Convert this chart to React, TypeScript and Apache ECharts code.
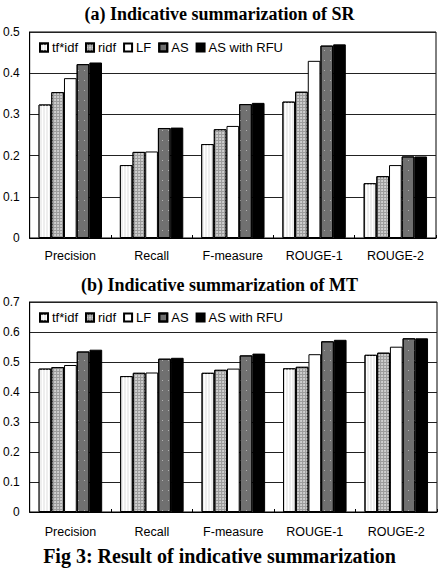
import React, { useEffect, useRef } from "react";
import * as echarts from "echarts";

const categories = ["Precision", "Recall", "F-measure", "ROUGE-1", "ROUGE-2"];
const seriesNames = ["tf*idf", "ridf", "LF", "AS", "AS with RFU"];

// (a) Indicative summarization of SR
const tfidfSR = [0.324, 0.177, 0.228, 0.331, 0.133];
const ridfSR = [0.354, 0.209, 0.264, 0.355, 0.15];
const lfSR = [0.388, 0.21, 0.272, 0.43, 0.177];
const asSR = [0.422, 0.267, 0.325, 0.467, 0.198];
const rfuSR = [0.426, 0.268, 0.328, 0.47, 0.198];

// (b) Indicative summarization of MT
const tfidfMT = [0.478, 0.453, 0.464, 0.479, 0.524];
const ridfMT = [0.483, 0.464, 0.474, 0.484, 0.531];
const lfMT = [0.49, 0.465, 0.478, 0.526, 0.551];
const asMT = [0.535, 0.511, 0.522, 0.569, 0.579];
const rfuMT = [0.541, 0.514, 0.528, 0.574, 0.579];

const titleA = "(a) Indicative summarization of SR";
const titleB = "(b) Indicative summarization of MT";
const caption = "Fig 3: Result of indicative summarization";

const sans = "Liberation Sans";
const serif = "Liberation Serif";

const styles = [
  {
    color: "#eeeeee",
    borderColor: "#000",
    borderWidth: 1,
    decal: {
      symbol: "rect",
      symbolSize: 1,
      color: "#ffffff",
      dashArrayX: [1, 2],
      dashArrayY: [4, 0],
      rotation: 0,
    },
  },
  {
    color: "#9c9c9c",
    borderColor: "#000",
    borderWidth: 1,
    decal: {
      symbol: "circle",
      symbolSize: 0.9,
      color: "#dddddd",
      dashArrayX: [2, 1],
      dashArrayY: [2, 1],
      rotation: 0,
    },
  },
  { color: "#ffffff", borderColor: "#000", borderWidth: 1 },
  {
    color: "#707070",
    borderColor: "#000",
    borderWidth: 1,
    decal: {
      symbol: "rect",
      symbolSize: 1,
      color: "#b0b0b0",
      dashArrayX: [1, 5],
      dashArrayY: [1, 9],
      rotation: 0,
    },
  },
  { color: "#000000", borderColor: "#000", borderWidth: 1 },
];

const srData = [tfidfSR, ridfSR, lfSR, asSR, rfuSR];
const mtData = [tfidfMT, ridfMT, lfMT, asMT, rfuMT];

export default function App() {
  const ref = useRef<HTMLDivElement>(null);
  useEffect(() => {
    if (!ref.current) return;
    const chart = echarts.init(ref.current, undefined, { renderer: "svg" });
    const makeSeries = (data: number[][], gi: number) =>
      data.map((vals, i) => ({
        name: seriesNames[i],
        type: "bar",
        xAxisIndex: gi,
        yAxisIndex: gi,
        data: vals,
        barGap: "0%",
        barCategoryGap: "22%",
        itemStyle: styles[i],
        emphasis: { disabled: true },
      }));
    const xAxisCommon = {
      type: "category",
      data: categories,
      axisLine: { show: true, lineStyle: { color: "#000", width: 1 } },
      axisTick: { show: true, inside: true, length: 3, lineStyle: { color: "#000" } },
      axisLabel: { color: "#000", fontFamily: sans, fontSize: 12.5, interval: 0, hideOverlap: false },
      splitLine: { show: false },
    };
    const yAxisCommon = {
      type: "value",
      min: 0,
      interval: 0.1,
      axisLine: { show: true, lineStyle: { color: "#000", width: 1 } },
      axisTick: { show: false },
      axisLabel: { color: "#000", fontFamily: sans, fontSize: 12, margin: 10 },
      splitLine: { show: true, lineStyle: { color: "#222", width: 1 } },
    };
    const titleStyle = (size: number) => ({
      fontFamily: serif,
      fontWeight: "bold",
      fontSize: size,
      color: "#000",
    });
    chart.setOption({
      animation: false,
      backgroundColor: "#fff",
      title: [
        { text: titleA, left: "center", top: 5, padding: 0, textStyle: titleStyle(18) },
        { text: titleB, left: "center", top: 276, padding: 0, textStyle: titleStyle(18) },
        { text: caption, left: "center", top: 546, padding: 0, textStyle: titleStyle(20) },
      ],
      legend: [
        {
          left: 34,
          top: 36,
          data: seriesNames,
          icon: "rect",
          itemWidth: 8,
          itemHeight: 8,
          itemGap: 7,
          textStyle: { fontFamily: sans, fontSize: 13, color: "#000", padding: [0, 0, 0, -1] },
          selectedMode: false,
        },
        {
          left: 34,
          top: 306,
          data: seriesNames.map((n) => n),
          icon: "rect",
          itemWidth: 8,
          itemHeight: 8,
          itemGap: 7,
          textStyle: { fontFamily: sans, fontSize: 13, color: "#000", padding: [0, 0, 0, -1] },
          selectedMode: false,
        },
      ],
      grid: [
        {
          left: 29,
          top: 32,
          width: 407,
          height: 206,
          show: true,
          borderColor: "#000",
          borderWidth: 1,
          backgroundColor: "transparent",
        },
        {
          left: 29,
          top: 302,
          width: 408,
          height: 210,
          show: true,
          borderColor: "#000",
          borderWidth: 1,
          backgroundColor: "transparent",
        },
      ],
      xAxis: [
        { ...xAxisCommon, gridIndex: 0, axisLabel: { ...xAxisCommon.axisLabel, margin: 11 } },
        { ...xAxisCommon, gridIndex: 1, axisLabel: { ...xAxisCommon.axisLabel, margin: 13 } },
      ],
      yAxis: [
        { ...yAxisCommon, gridIndex: 0, max: 0.5 },
        { ...yAxisCommon, gridIndex: 1, max: 0.7 },
      ],
      series: [...makeSeries(srData, 0), ...makeSeries(mtData, 1)],
    });
    return () => chart.dispose();
  }, []);
  return (
    <div
      ref={ref}
      style={{ position: "fixed", left: 0, top: 0, width: 439, height: 569, background: "#fff" }}
    />
  );
}
